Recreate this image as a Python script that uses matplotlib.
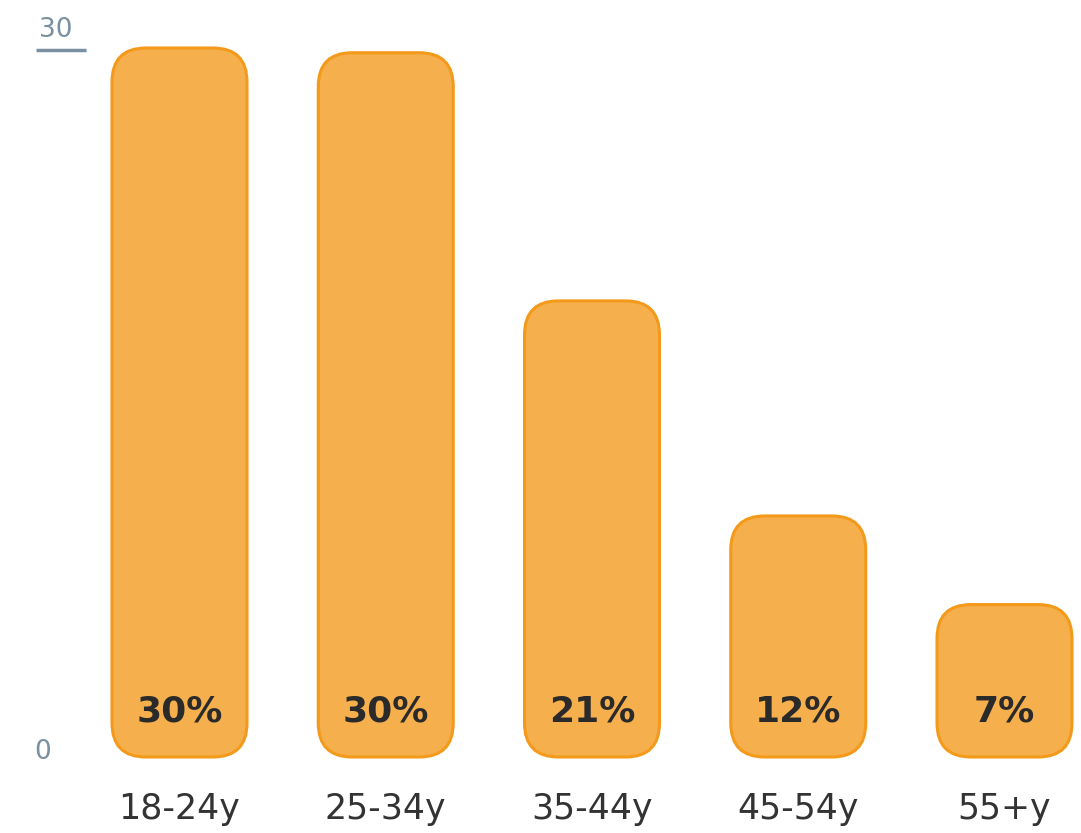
import matplotlib
matplotlib.use("Agg")
import matplotlib.pyplot as plt
from matplotlib.patches import FancyBboxPatch
from matplotlib.transforms import blended_transform_factory

categories = ["18-24y", "25-34y", "35-44y", "45-54y", "55+y"]
heights = [30.0, 29.8, 19.3, 10.2, 6.45]
labels = ["30%", "30%", "21%", "12%", "7%"]
y_ticks = [0, 30]

FILL = "#f5af4d"
EDGE = "#f39a1a"
TICK_COLOR = "#7a90a0"
TEXT_COLOR = "#333333"

plt.rcParams["font.family"] = ["DejaVu Sans"]

W, H = 1081, 833
fig = plt.figure(figsize=(W / 100, H / 100), dpi=100)
# axes: y=0 at pixel 757, y=30 at pixel 48
ax = fig.add_axes([0, (H - 757) / H, 1, (757 - 48) / H])
step = 206.25
x0 = -179.5 / step
ax.set_xlim(x0, x0 + W / step)
ax.set_ylim(0, 30)
ax.axis("off")

bar_w = 135 / step
px_x = step
px_y = (757 - 48) / 30
r = 34 / px_x
aspect = px_x / px_y

for i, h in enumerate(heights):
    p = FancyBboxPatch((i - bar_w / 2, 0), bar_w, h,
                       boxstyle=f"round,pad=0,rounding_size={r}",
                       mutation_aspect=aspect,
                       facecolor=FILL, edgecolor=EDGE, linewidth=2.2,
                       clip_on=False)
    ax.add_patch(p)
    ax.annotate(labels[i], (i, 0), xytext=(0, 46), textcoords="offset pixels",
                ha="center", va="center", fontsize=26, fontweight="bold",
                color="#2a2a2a")
    ax.annotate(categories[i], (i, 0), xytext=(0, -52), textcoords="offset pixels",
                ha="center", va="center", fontsize=25, color=TEXT_COLOR)

trans = blended_transform_factory(ax.transAxes, ax.transData)
ax.annotate(str(y_ticks[0]), (43 / W, y_ticks[0]), xycoords=trans,
            xytext=(0, 5), textcoords="offset pixels", ha="center",
            va="center", fontsize=19, color=TICK_COLOR)
ax.annotate(str(y_ticks[1]), (56 / W, y_ticks[1]), xycoords=trans,
            xytext=(0, 18), textcoords="offset pixels", ha="center",
            va="center", fontsize=19, color=TICK_COLOR)
ax.plot([36 / W, 86 / W], [y_ticks[1] - 2 / px_y] * 2, transform=trans,
        color=TICK_COLOR, linewidth=2.5, clip_on=False, solid_capstyle="butt")

fig.savefig("out.png", dpi=100, facecolor="white")
